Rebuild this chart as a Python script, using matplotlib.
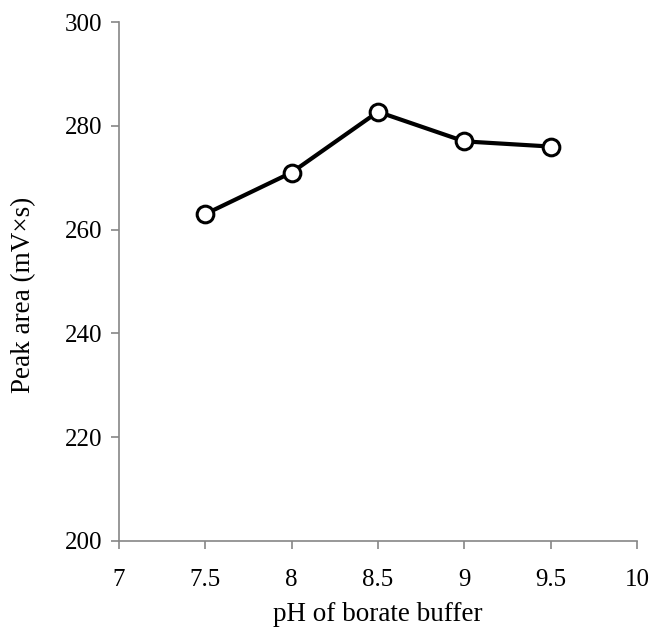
import matplotlib
matplotlib.use("Agg")
from matplotlib import pyplot as plt

plt.rcParams['font.family'] = ['Liberation Serif', 'DejaVu Serif']

ph = [7.5, 8, 8.5, 9, 9.5]
peak_area = [263, 271, 282.7, 277, 276]

fig = plt.figure(figsize=(6.52, 6.29), dpi=100)
ax = fig.add_axes([0.1825, 0.14, 0.7945, 0.825])

ax.plot(ph, peak_area, color='black', linewidth=3, marker='o', markersize=12,
        markerfacecolor='white', markeredgecolor='black', markeredgewidth=2.2,
        clip_on=False, zorder=3)

ax.set_xlim(7, 10)
ax.set_ylim(200, 300)
ax.set_xticks([7, 7.5, 8, 8.5, 9, 9.5, 10])
ax.set_xticklabels(['7', '7.5', '8', '8.5', '9', '9.5', '10'])
ax.set_yticks([200, 220, 240, 260, 280, 300])

for side in ['top', 'right']:
    ax.spines[side].set_visible(False)
for side in ['left', 'bottom']:
    ax.spines[side].set_color('#868686')
    ax.spines[side].set_linewidth(1.2)

ax.tick_params(axis='both', direction='out', length=6, width=1.2, color='#868686',
               labelsize=18)
ax.tick_params(axis='x', pad=14)
ax.tick_params(axis='y', pad=6)
ax.set_xlabel('pH of borate buffer', fontsize=19.5, labelpad=8)
ax.set_ylabel('Peak area (mV×s)', fontsize=19.5)
ax.yaxis.set_label_coords(-0.160, 0.474)

fig.savefig('out.png', dpi=100)
